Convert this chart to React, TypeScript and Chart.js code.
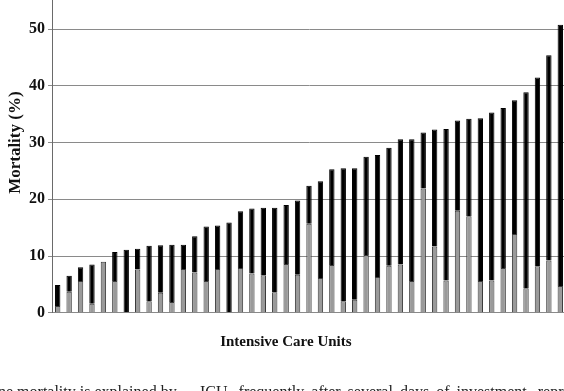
import React, { useEffect, useRef } from "react";
import { Chart, registerables } from "chart.js";

Chart.register(...registerables);

// ---- data ----
const totalMortality = [
  4.9, 6.5, 8.0, 8.5, 9.0, 10.7, 11.1, 11.3, 11.8, 11.9, 12.0, 12.0, 13.5, 15.2, 15.4,
  15.9, 17.9, 18.4, 18.5, 18.5, 19.0, 19.8, 22.4, 23.2, 25.3, 25.5, 25.5, 27.5, 27.8, 29.1,
  30.6, 30.6, 31.8, 32.3, 32.4, 33.9, 34.2, 34.3, 35.3, 36.1, 37.5, 38.9, 41.5, 45.4, 50.8,
];
const grayPortion = [
  1.2, 3.7, 5.6, 1.6, 9.0, 5.6, 0, 7.6, 2.0, 3.5, 1.9, 7.7, 7.1, 5.6, 7.7,
  0, 7.9, 6.9, 6.6, 3.6, 8.6, 6.7, 15.7, 6.1, 8.4, 2.0, 2.3, 10.2, 6.3, 8.3,
  8.5, 5.6, 21.9, 11.7, 5.7, 18.0, 17.0, 5.6, 5.7, 7.9, 13.9, 4.3, 8.2, 9.2, 4.7,
];
const icuLabels = totalMortality.map((_, i) => `ICU ${i + 1}`);
const yTickValues = [0, 10, 20, 30, 40, 50];
const yAxisTitle = "Mortality (%)";
const xAxisTitle = "Intensive Care Units";
const captionLeft = "ne mortality is explained by";
const captionRight = "ICU, frequently after several days of investment, repre-";

const blackPortion = totalMortality.map((t, i) => Math.round((t - grayPortion[i]) * 100) / 100);

const SERIF = '"Liberation Serif", "Times New Roman", serif';

const xTitlePlugin = {
  id: "xTitleDraw",
  afterDraw(chart: any) {
    const { ctx, chartArea } = chart;
    ctx.save();
    ctx.font = `bold 15px ${SERIF}`;
    ctx.fillStyle = "#111";
    ctx.textAlign = "center";
    ctx.textBaseline = "middle";
    ctx.fillText(xAxisTitle, chartArea.left + chartArea.width * 0.455, chartArea.bottom + 29);
    ctx.restore();
  },
};

export default function App() {
  const ref = useRef<HTMLCanvasElement | null>(null);

  useEffect(() => {
    if (!ref.current) return;
    const chart = new Chart(ref.current, {
      type: "bar",
      data: {
        labels: icuLabels,
        datasets: [
          {
            label: "gray",
            data: grayPortion,
            backgroundColor: "#9a9a9a",
            borderColor: "#3a3a3a",
            borderWidth: (c: any) => (c.raw > 0 ? 1 : 0),
            barPercentage: 0.47,
            categoryPercentage: 1,
            stack: "s",
          },
          {
            label: "black",
            data: blackPortion,
            backgroundColor: "#000",
            borderColor: "#000",
            borderWidth: (c: any) => (c.raw > 0 ? 1 : 0),
            barPercentage: 0.47,
            categoryPercentage: 1,
            stack: "s",
          },
        ],
      },
      options: {
        animation: false,
        responsive: false,
        layout: { padding: { left: 0, right: 8, top: 11, bottom: 87.3 } },
        plugins: { legend: { display: false }, tooltip: { enabled: false }, title: { display: false } },
        scales: {
          x: {
            stacked: true,
            ticks: { display: false },
            grid: { display: false },
            border: { display: true, color: "#8a8a8a" },
            afterFit: (s: any) => {
              s.height = 0;
            },
          },
          y: {
            stacked: true,
            min: 0,
            max: 60,
            afterBuildTicks: (s: any) => {
              s.ticks = yTickValues.map((v) => ({ value: v }));
            },
            afterFit: (s: any) => {
              s.width = 52;
            },
            ticks: {
              color: "#111",
              padding: 3,
              font: { family: SERIF, size: 16, weight: "bold" },
            },
            grid: { color: "#8a8a8a", lineWidth: 1, tickLength: 4, drawTicks: true },
            border: { display: true, color: "#6a6a6a" },
            title: {
              display: true,
              text: yAxisTitle,
              color: "#111",
              padding: { top: 5, bottom: 0 },
              font: { family: SERIF, size: 17, weight: "bold" },
            },
          },
        },
      },
      plugins: [xTitlePlugin],
    } as any);
    return () => chart.destroy();
  }, []);

  return (
    <div
      style={{
        position: "fixed",
        left: 0,
        top: 0,
        width: 564,
        height: 391,
        overflow: "hidden",
        background: "#fff",
      }}
    >
      <div style={{ position: "absolute", left: 0, top: -40, width: 574, height: 440 }}>
        <canvas ref={ref} width={574} height={440} />
      </div>
      <div
        style={{
          position: "absolute",
          top: 384,
          left: 0,
          width: 640,
          height: 20,
          font: `16px/16px ${SERIF}`,
          color: "#222",
          whiteSpace: "nowrap",
        }}
      >
        <span style={{ position: "absolute", left: -2 }}>{captionLeft}</span>
        <span style={{ position: "absolute", left: 200, wordSpacing: 3 }}>{captionRight}</span>
      </div>
    </div>
  );
}
